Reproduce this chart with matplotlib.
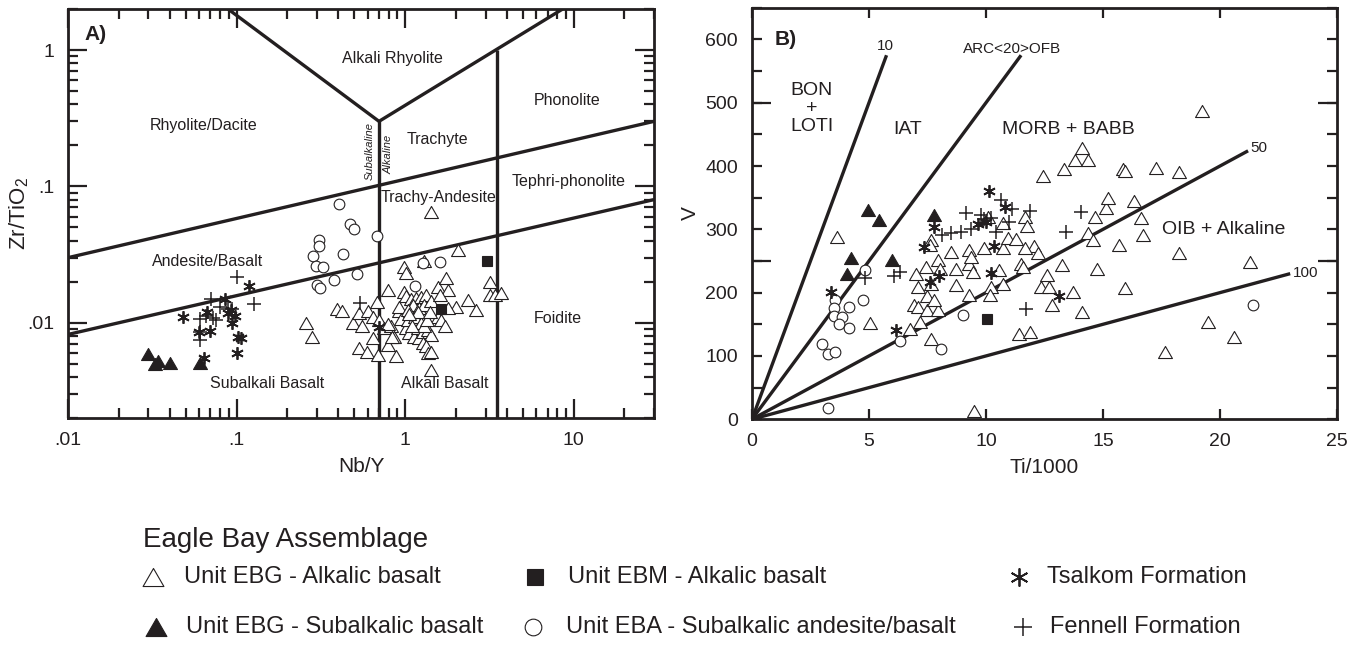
import numpy as np
import matplotlib.pyplot as plt
from matplotlib.lines import Line2D
from matplotlib.path import Path
from matplotlib.ticker import NullFormatter

plt.rcParams['font.family'] = ['Liberation Sans', 'DejaVu Sans']
plt.rcParams['mathtext.fontset'] = 'custom'
plt.rcParams['mathtext.rm'] = 'Liberation Sans'
plt.rcParams['mathtext.it'] = 'Liberation Sans:italic'

INK = '#231f20'

# ---------------- Panel A: Nb/Y vs Zr/TiO2 ----------------
a_ebg_alk_x = [0.258, 0.279, 0.394, 0.420, 0.489, 0.535, 0.552, 0.600, 0.643, 0.681,
               0.703, 0.746, 0.643, 0.535, 0.595, 0.687, 0.883, 0.789, 0.826, 0.857,
               0.925, 0.991, 1.014, 0.991, 1.014, 1.303, 2.06, 1.014, 1.061, 1.136,
               1.216, 1.19, 1.275, 1.365, 1.428, 1.275, 1.334, 1.365, 1.428, 1.086,
               1.162, 1.245, 1.334, 1.111, 1.216, 1.303, 1.428, 1.565, 1.754, 1.795,
               1.600, 1.565, 1.622, 1.714, 2.01, 2.36, 2.65, 3.18, 3.18, 3.40,
               3.69, 1.428, 0.946, 1.038, 0.925, 1.795, 1.038, 0.789, 1.428, 0.79,
               0.84, 1.15, 1.25, 1.30, 1.20, 1.10, 1.35, 1.40, 1.05]
a_ebg_alk_y = [0.0100, 0.0078, 0.0127, 0.0122, 0.0100, 0.0117, 0.0095, 0.0122, 0.0111, 0.0142,
               0.0104, 0.0091, 0.0077, 0.0065, 0.0061, 0.0058, 0.0057, 0.0173, 0.0095, 0.0079,
               0.0122, 0.0168, 0.0157, 0.0256, 0.0233, 0.0282, 0.0339, 0.0091, 0.0084, 0.0079,
               0.0077, 0.0091, 0.0086, 0.0088, 0.0081, 0.0071, 0.0067, 0.0060, 0.0061, 0.0150,
               0.0152, 0.0155, 0.0159, 0.0134, 0.0129, 0.0134, 0.0144, 0.0183, 0.0211, 0.0173,
               0.0159, 0.0111, 0.0104, 0.0094, 0.0131, 0.0146, 0.0124, 0.0199, 0.0159, 0.0159,
               0.0164, 0.0045, 0.0107, 0.0104, 0.0131, 0.0128, 0.0124, 0.0069, 0.0653, 0.0097,
               0.0078, 0.0110, 0.0100, 0.0095, 0.0120, 0.0095, 0.0105, 0.0120, 0.0115]
a_ebg_sub_x = [0.030, 0.033, 0.034, 0.040, 0.061]
a_ebg_sub_y = [0.0059, 0.0050, 0.0052, 0.0051, 0.0051]
a_ebm_x = [3.07, 1.63]
a_ebm_y = [0.0282, 0.0127]
a_eba_x = [0.405, 0.472, 0.495, 0.681, 0.31, 0.31, 0.284, 0.43, 0.295, 0.324,
           0.519, 0.377, 0.298, 0.313, 1.15, 1.27, 1.6]
a_eba_y = [0.074, 0.053, 0.0485, 0.0434, 0.0406, 0.0363, 0.031, 0.032, 0.026, 0.0256,
           0.0228, 0.0204, 0.019, 0.018, 0.0185, 0.0274, 0.0277]
a_tsal_x = [0.0482, 0.0669, 0.0597, 0.070, 0.0849, 0.093, 0.098, 0.0942, 0.102, 0.1066,
            0.101, 0.118, 0.064, 0.089, 0.703]
a_tsal_y = [0.0111, 0.0120, 0.0085, 0.0087, 0.0150, 0.0124, 0.0112, 0.0099, 0.0078, 0.0077,
            0.0060, 0.0185, 0.0055, 0.0117, 0.0093]
a_fen_x = [0.100, 0.127, 0.0707, 0.061, 0.0654, 0.0726, 0.080, 0.0888, 0.061, 0.0605,
           0.075, 0.094, 0.542]
a_fen_y = [0.0217, 0.0138, 0.0150, 0.0106, 0.0112, 0.0109, 0.0131, 0.0127, 0.0075, 0.0085,
           0.0104, 0.0126, 0.0140]

# field boundaries (Pearce 1996 style)
a_lines = [([0.01, 30], [0.03, 0.3]),
           ([0.01, 30], [0.0082, 0.08]),
           ([0.7, 0.7], [0.002, 0.3]),
           ([3.5, 3.5], [0.002, 1.0]),
           ([0.089, 0.7, 8.6], [2.0, 0.3, 2.0])]
a_fields = ['Alkali Rhyolite', 'Rhyolite/Dacite', 'Phonolite', 'Trachyte', 'Tephri-phonolite',
            'Trachy-Andesite', 'Andesite/Basalt', 'Foidite', 'Subalkali Basalt', 'Alkali Basalt']
a_field_x = [0.84, 0.064, 9.2, 1.55, 9.4, 1.57, 0.067, 8.1, 0.151, 1.72]
a_field_y = [0.87, 0.28, 0.43, 0.219, 0.108, 0.0826, 0.028, 0.0108, 0.00355, 0.0036]

# ---------------- Panel B: Ti/1000 vs V ----------------
b_ebg_alk_x = [3.63, 5.03, 7.02, 7.11, 6.93, 7.11, 6.74, 7.17, 7.67, 7.62,
               7.96, 7.45, 7.48, 7.67, 7.48, 7.95, 7.77, 8.04, 7.67, 8.51,
               8.73, 8.70, 9.26, 9.26, 9.35, 9.44, 9.26, 9.91, 10.09, 10.22,
               10.19, 10.56, 10.74, 10.74, 10.74, 10.93, 11.27, 11.49, 11.58, 11.4,
               11.86, 11.68, 11.77, 12.05, 12.23, 11.68, 12.37, 12.6, 12.7, 12.8,
               12.42, 13.35, 13.26, 13.82, 14.1, 14.37, 13.72, 14.1, 14.37, 14.56,
               14.66, 14.75, 15.12, 15.21, 15.68, 15.87, 15.96, 15.96, 16.33, 16.61,
               16.7, 17.26, 17.64, 18.25, 18.25, 19.22, 19.5, 20.58, 21.27, 9.5]
b_ebg_alk_y = [288, 152, 230, 209, 180, 177, 143, 154, 283, 275,
               252, 241, 194, 214, 172, 172, 188, 238, 127, 264,
               238, 212, 267, 246, 257, 233, 196, 270, 320, 209,
               196, 236, 214, 270, 310, 286, 284, 246, 241, 135,
               138, 320, 305, 273, 262, 270, 209, 228, 209, 180,
               384, 395, 244, 410, 429, 410, 201, 169, 294, 283,
               320, 238, 334, 350, 275, 395, 392, 207, 344, 318,
               291, 397, 106, 390, 262, 487, 154, 130, 249, 13]
b_ebg_sub_x = [4.23, 4.04, 4.97, 5.44, 6.0, 7.8]
b_ebg_sub_y = [254, 229, 330, 315, 252, 323]
b_ebm_x = [10.06]
b_ebm_y = [158]
b_eba_x = [4.81, 3.53, 3.5, 3.5, 3.86, 4.14, 3.74, 4.14, 4.76, 3.0,
           3.24, 3.54, 3.24, 6.33, 9.0, 8.07, 21.4]
b_eba_y = [236, 188, 175, 163, 162, 177, 150, 144, 189, 119,
           103, 106, 17, 123, 164, 111, 181]
b_tsal_x = [3.36, 6.17, 7.36, 7.76, 7.6, 7.99, 9.67, 10.0, 10.14, 10.36, 10.21, 10.81, 13.1]
b_tsal_y = [201, 141, 272, 303, 217, 226, 308, 312, 361, 273, 231, 335, 195]
b_fen_x = [4.81, 6.07, 6.33, 8.14, 8.5, 8.93, 9.14, 9.36, 9.93, 10.43,
           10.64, 11.0, 11.1, 11.86, 13.4, 14.07, 11.71, 9.8, 10.2]
b_fen_y = [223, 226, 233, 291, 294, 296, 326, 300, 317, 296,
           346, 312, 332, 329, 295, 327, 174, 322, 318]

# Ti/V ratio lines and where each one stops on the Ti axis
b_ratios = [10, 20, 50, 100]
b_ratio_end = [5.75, 11.5, 21.2, 23.0]
b_fields = ['BON\n+\nLOTI', 'IAT', 'MORB + BABB', 'OIB + Alkaline']
b_field_x = [2.55, 6.65, 13.5, 20.15]
b_field_y = [491, 458, 458, 299]
b_ratio_labels = ['10', 'ARC<20>OFB', '50', '100']
b_ratio_lab_x = [5.68, 11.12, 21.66, 23.67]
b_ratio_lab_y = [590, 585, 428, 231]

# ---------------- legend ----------------
legend_labels = ['Unit EBG - Alkalic basalt', 'Unit EBM - Alkalic basalt', 'Tsalkom Formation',
                 'Unit EBG - Subalkalic basalt', 'Unit EBA - Subalkalic andesite/basalt',
                 'Fennell Formation']

tri = Path([(-1, -0.866), (1, -0.866), (0, 0.866), (-1, -0.866)],
           [Path.MOVETO, Path.LINETO, Path.LINETO, Path.CLOSEPOLY])
styles = {
    'ebg_alk': dict(marker=tri, ms=10, mfc='white', mec=INK, mew=0.8),
    'ebg_sub': dict(marker=tri, ms=10, mfc=INK, mec=INK, mew=0.8),
    'ebm': dict(marker='s', ms=7.5, mfc=INK, mec=INK, mew=0.8),
    'eba': dict(marker='o', ms=7.7, mfc='white', mec=INK, mew=0.8),
    'tsal': dict(marker=(6, 2, 0), ms=9, mec=INK, mew=1.3),
    'fen': dict(marker='+', ms=9.5, mec=INK, mew=1.1),
}

fig = plt.figure(figsize=(13.64, 6.46), dpi=100)
ax1 = fig.add_axes([0.0499, 0.353, 0.4296, 0.633])
ax2 = fig.add_axes([0.5513, 0.351, 0.4289, 0.637])

for ax in (ax1, ax2):
    for s in ax.spines.values():
        s.set_linewidth(2.0)
        s.set_color(INK)

# ---- panel A ----
ax1.set_xscale('log')
ax1.set_yscale('log')
for xs, ys in a_lines:
    ax1.plot(xs, ys, color=INK, lw=2.4, solid_capstyle='butt', zorder=2)
ax1.plot(a_ebg_alk_x, a_ebg_alk_y, ls='none', zorder=3, **styles['ebg_alk'])
ax1.plot(a_eba_x, a_eba_y, ls='none', zorder=3, **styles['eba'])
ax1.plot(a_fen_x, a_fen_y, ls='none', zorder=4, **styles['fen'])
ax1.plot(a_tsal_x, a_tsal_y, ls='none', zorder=4, **styles['tsal'])
ax1.plot(a_ebg_sub_x, a_ebg_sub_y, ls='none', zorder=4, **styles['ebg_sub'])
ax1.plot(a_ebm_x, a_ebm_y, ls='none', zorder=4, **styles['ebm'])

for name, x, y in zip(a_fields, a_field_x, a_field_y):
    ax1.text(x, y, name, fontsize=11.5, ha='center', va='center', color=INK)
ax1.text(0.62, 0.182, 'Subalkaline', rotation=90, fontsize=8, style='italic',
         ha='center', va='center', color=INK)
ax1.text(0.794, 0.172, 'Alkaline', rotation=90, fontsize=8, style='italic',
         ha='center', va='center', color=INK)
ax1.text(0.0125, 1.31, 'A)', fontsize=15, fontweight='bold', ha='left', va='center', color=INK)

ax1.set_xlim(0.01, 30)
ax1.set_ylim(0.002, 2)
ax1.set_xticks([0.01, 0.1, 1, 10], ['.01', '.1', '1', '10'])
ax1.set_yticks([0.01, 0.1, 1], ['.01', '.1', '1'])
ax1.xaxis.set_minor_formatter(NullFormatter())
ax1.yaxis.set_minor_formatter(NullFormatter())
ax1.tick_params(which='both', direction='in', top=True, right=True, width=1.6,
                color=INK, labelcolor=INK, labelsize=14, pad=10)
ax1.tick_params(which='major', length=14)
ax1.tick_params(which='minor', length=7)
ax1.set_xlabel('Nb/Y', fontsize=15, color=INK, labelpad=6)
ax1.set_ylabel('Zr/TiO$_2$', fontsize=16, color=INK, labelpad=-3)

# ---- panel B ----
for r, xe in zip(b_ratios, b_ratio_end):
    ax2.plot([0, xe], [0, xe * 1000 / r], color=INK, lw=2.4, solid_capstyle='butt', zorder=2)
ax2.plot(b_ebg_alk_x, b_ebg_alk_y, ls='none', zorder=3, **styles['ebg_alk'])
ax2.plot(b_eba_x, b_eba_y, ls='none', zorder=3, **styles['eba'])
ax2.plot(b_fen_x, b_fen_y, ls='none', zorder=4, **styles['fen'])
ax2.plot(b_tsal_x, b_tsal_y, ls='none', zorder=4, **styles['tsal'])
ax2.plot(b_ebg_sub_x, b_ebg_sub_y, ls='none', zorder=4, **styles['ebg_sub'])
ax2.plot(b_ebm_x, b_ebm_y, ls='none', zorder=4, **styles['ebm'])

for name, x, y in zip(b_fields, b_field_x, b_field_y):
    ax2.text(x, y, name, fontsize=14, ha='center', va='center', color=INK, linespacing=1.05)
for name, x, y in zip(b_ratio_labels, b_ratio_lab_x, b_ratio_lab_y):
    ax2.text(x, y, name, fontsize=11, ha='center', va='center', color=INK)
ax2.text(1.43, 600, 'B)', fontsize=15, fontweight='bold', ha='center', va='center', color=INK)

ax2.set_xlim(0, 25)
ax2.set_ylim(0, 650)
ax2.set_xticks(np.arange(0, 26, 5))
yt = np.arange(0, 651, 50)
ax2.set_yticks(yt, [str(v) if v % 100 == 0 else '' for v in yt])
ax2.set_yticks([250, 500], minor=True)
ax2.yaxis.remove_overlapping_locs = False
ax2.tick_params(which='both', direction='in', top=True, right=True, width=1.6,
                color=INK, labelcolor=INK, labelsize=14, pad=10)
ax2.tick_params(which='major', length=7)
ax2.tick_params(axis='y', which='minor', length=14)
ax2.set_xlabel('Ti/1000', fontsize=15, color=INK, labelpad=6)
ax2.set_ylabel('V', fontsize=15, color=INK, labelpad=4)

# ---- legend drawn in figure space ----
W, H = 1364.0, 646.0
fig.text(143 / W, 1 - 540 / H, 'Eagle Bay Assemblage', fontsize=20, ha='left', va='center', color=INK)
leg_keys = ['ebg_alk', 'ebm', 'tsal', 'ebg_sub', 'eba', 'fen']
leg_ms = [15, 12, 13, 15, 12, 13]
leg_mx = [153, 535, 1019, 156, 533, 1023]
leg_tx = [184, 568, 1047, 186, 566, 1050]
leg_y = [577, 577, 577, 627, 627, 627]
for key, lab, ms, mx, tx, y in zip(leg_keys, legend_labels, leg_ms, leg_mx, leg_tx, leg_y):
    st = dict(styles[key])
    st['ms'] = ms
    fig.add_artist(Line2D([mx / W], [1 - y / H], transform=fig.transFigure, ls='none', **st))
    fig.text(tx / W, 1 - y / H, lab, fontsize=17, ha='left', va='center', color=INK)

fig.savefig('out.png', dpi=100)
